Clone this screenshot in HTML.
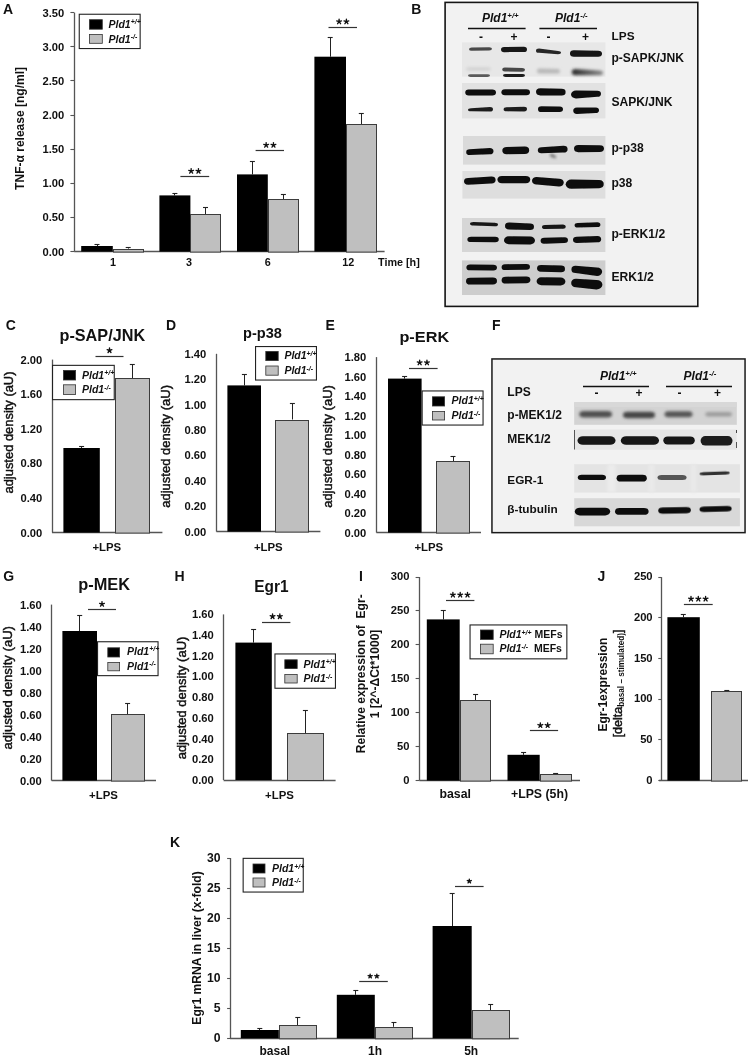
<!DOCTYPE html>
<html><head><meta charset="utf-8"><title>Figure</title>
<style>
html,body{margin:0;padding:0;background:#fff;}
body{width:750px;height:1058px;overflow:hidden;}
svg{display:block;font-family:"Liberation Sans", sans-serif;will-change:transform;}
</style></head>
<body>
<svg width="750" height="1058" viewBox="0 0 750 1058">
<defs>
<filter id="b1" x="-20%" y="-60%" width="140%" height="220%"><feGaussianBlur stdDeviation="0.7"/></filter>
<filter id="b2" x="-20%" y="-80%" width="140%" height="260%"><feGaussianBlur stdDeviation="1.4"/></filter>
</defs>
<rect x="0" y="0" width="750" height="1058" fill="#fff"/>
<text x="3.0" y="13.7" font-size="14" font-weight="bold" text-anchor="start" fill="#111">A</text>
<line x1="74.5" y1="12.619999999999976" x2="74.5" y2="251.6" stroke="#555" stroke-width="1.3"/>
<line x1="70.4" y1="251.5" x2="74.2" y2="251.5" stroke="#555" stroke-width="1.1"/>
<text x="64.3" y="255.5" font-size="11.2" font-weight="bold" text-anchor="end" fill="#111">0.00</text>
<line x1="70.4" y1="217.5" x2="74.2" y2="217.5" stroke="#555" stroke-width="1.1"/>
<text x="64.3" y="221.36" font-size="11.2" font-weight="bold" text-anchor="end" fill="#111">0.50</text>
<line x1="70.4" y1="183.5" x2="74.2" y2="183.5" stroke="#555" stroke-width="1.1"/>
<text x="64.3" y="187.22" font-size="11.2" font-weight="bold" text-anchor="end" fill="#111">1.00</text>
<line x1="70.4" y1="149.5" x2="74.2" y2="149.5" stroke="#555" stroke-width="1.1"/>
<text x="64.3" y="153.08" font-size="11.2" font-weight="bold" text-anchor="end" fill="#111">1.50</text>
<line x1="70.4" y1="115.5" x2="74.2" y2="115.5" stroke="#555" stroke-width="1.1"/>
<text x="64.3" y="118.94" font-size="11.2" font-weight="bold" text-anchor="end" fill="#111">2.00</text>
<line x1="70.4" y1="80.5" x2="74.2" y2="80.5" stroke="#555" stroke-width="1.1"/>
<text x="64.3" y="84.8" font-size="11.2" font-weight="bold" text-anchor="end" fill="#111">2.50</text>
<line x1="70.4" y1="46.5" x2="74.2" y2="46.5" stroke="#555" stroke-width="1.1"/>
<text x="64.3" y="50.66" font-size="11.2" font-weight="bold" text-anchor="end" fill="#111">3.00</text>
<line x1="70.4" y1="12.5" x2="74.2" y2="12.5" stroke="#555" stroke-width="1.1"/>
<text x="64.3" y="16.52" font-size="11.2" font-weight="bold" text-anchor="end" fill="#111">3.50</text>
<line x1="74.2" y1="251.5" x2="384.6" y2="251.5" stroke="#555" stroke-width="1.3"/>
<line x1="97.5" y1="244.4" x2="97.5" y2="246" stroke="#222" stroke-width="1.0"/>
<line x1="94.5" y1="244.5" x2="99.5" y2="244.5" stroke="#222" stroke-width="1.1"/>
<line x1="128.5" y1="247.4" x2="128.5" y2="248.6" stroke="#222" stroke-width="1.0"/>
<line x1="125.69999999999999" y1="247.5" x2="130.7" y2="247.5" stroke="#222" stroke-width="1.1"/>
<rect x="81.20" y="246.00" width="31.60" height="5.60" fill="#000"/>
<rect x="113.5" y="249.5" width="30" height="2.5999999999999943" fill="#bfbfbf" stroke="#3c3c3c" stroke-width="1"/>
<line x1="174.5" y1="193" x2="174.5" y2="195.4" stroke="#222" stroke-width="1.0"/>
<line x1="172.4" y1="193.5" x2="177.4" y2="193.5" stroke="#222" stroke-width="1.1"/>
<line x1="205.5" y1="207.2" x2="205.5" y2="214.4" stroke="#222" stroke-width="1.0"/>
<line x1="203.0" y1="207.5" x2="208.0" y2="207.5" stroke="#222" stroke-width="1.1"/>
<rect x="159.40" y="195.40" width="31.00" height="56.20" fill="#000"/>
<rect x="190.5" y="214.5" width="30" height="37.599999999999994" fill="#bfbfbf" stroke="#3c3c3c" stroke-width="1"/>
<line x1="252.5" y1="161.2" x2="252.5" y2="174.4" stroke="#222" stroke-width="1.0"/>
<line x1="249.9" y1="161.5" x2="254.9" y2="161.5" stroke="#222" stroke-width="1.1"/>
<line x1="283.5" y1="194.4" x2="283.5" y2="199.4" stroke="#222" stroke-width="1.0"/>
<line x1="280.9" y1="194.5" x2="285.9" y2="194.5" stroke="#222" stroke-width="1.1"/>
<rect x="237.00" y="174.40" width="30.80" height="77.20" fill="#000"/>
<rect x="268.5" y="199.5" width="30" height="52.599999999999994" fill="#bfbfbf" stroke="#3c3c3c" stroke-width="1"/>
<line x1="330.5" y1="37.3" x2="330.5" y2="56.7" stroke="#222" stroke-width="1.0"/>
<line x1="327.7" y1="37.5" x2="332.7" y2="37.5" stroke="#222" stroke-width="1.1"/>
<line x1="361.5" y1="113.8" x2="361.5" y2="124.3" stroke="#222" stroke-width="1.0"/>
<line x1="358.8" y1="113.5" x2="363.8" y2="113.5" stroke="#222" stroke-width="1.1"/>
<rect x="314.40" y="56.70" width="31.60" height="194.90" fill="#000"/>
<rect x="346.5" y="124.5" width="30" height="127.6" fill="#bfbfbf" stroke="#3c3c3c" stroke-width="1"/>
<line x1="180.4" y1="176.5" x2="209.2" y2="176.5" stroke="#333" stroke-width="1.2"/>
<path d="M191.15 171.10L191.15 168.60M191.15 171.10L193.53 170.33M191.15 171.10L192.62 173.12M191.15 171.10L189.68 173.12M191.15 171.10L188.77 170.33" stroke="#111" stroke-width="1.35" stroke-linecap="round" fill="none"/>
<circle cx="191.15" cy="171.10" r="1.15" fill="#111"/>
<path d="M198.45 171.10L198.45 168.60M198.45 171.10L200.83 170.33M198.45 171.10L199.92 173.12M198.45 171.10L196.98 173.12M198.45 171.10L196.07 170.33" stroke="#111" stroke-width="1.35" stroke-linecap="round" fill="none"/>
<circle cx="198.45" cy="171.10" r="1.15" fill="#111"/>
<line x1="255.6" y1="150.5" x2="284.0" y2="150.5" stroke="#333" stroke-width="1.2"/>
<path d="M266.15 145.10L266.15 142.60M266.15 145.10L268.53 144.33M266.15 145.10L267.62 147.12M266.15 145.10L264.68 147.12M266.15 145.10L263.77 144.33" stroke="#111" stroke-width="1.35" stroke-linecap="round" fill="none"/>
<circle cx="266.15" cy="145.10" r="1.15" fill="#111"/>
<path d="M273.45 145.10L273.45 142.60M273.45 145.10L275.83 144.33M273.45 145.10L274.92 147.12M273.45 145.10L271.98 147.12M273.45 145.10L271.07 144.33" stroke="#111" stroke-width="1.35" stroke-linecap="round" fill="none"/>
<circle cx="273.45" cy="145.10" r="1.15" fill="#111"/>
<line x1="328.5" y1="27.5" x2="357.0" y2="27.5" stroke="#333" stroke-width="1.2"/>
<path d="M339.10 21.70L339.10 19.20M339.10 21.70L341.48 20.93M339.10 21.70L340.57 23.72M339.10 21.70L337.63 23.72M339.10 21.70L336.72 20.93" stroke="#111" stroke-width="1.35" stroke-linecap="round" fill="none"/>
<circle cx="339.10" cy="21.70" r="1.15" fill="#111"/>
<path d="M346.40 21.70L346.40 19.20M346.40 21.70L348.78 20.93M346.40 21.70L347.87 23.72M346.40 21.70L344.93 23.72M346.40 21.70L344.02 20.93" stroke="#111" stroke-width="1.35" stroke-linecap="round" fill="none"/>
<circle cx="346.40" cy="21.70" r="1.15" fill="#111"/>
<text x="113.1" y="266" font-size="10.8" font-weight="bold" text-anchor="middle" fill="#111">1</text>
<text x="188.9" y="266" font-size="10.8" font-weight="bold" text-anchor="middle" fill="#111">3</text>
<text x="267.8" y="266" font-size="10.8" font-weight="bold" text-anchor="middle" fill="#111">6</text>
<text x="348.3" y="266" font-size="10.8" font-weight="bold" text-anchor="middle" fill="#111">12</text>
<text x="378" y="266" font-size="10.8" font-weight="bold" text-anchor="start" fill="#111">Time [h]</text>
<rect x="79.25" y="14.25" width="60.90" height="34.30" fill="#fff" stroke="#222" stroke-width="1.1"/>
<rect x="89.40" y="19.70" width="12.90" height="9.50" fill="#000" stroke="#333" stroke-width="0.8"/>
<rect x="89.40" y="34.40" width="12.90" height="8.90" fill="#bfbfbf" stroke="#333" stroke-width="0.8"/>
<text x="108.5" y="27.7" font-size="10.5" font-weight="bold" font-style="italic" fill="#111" xml:space="preserve">Pld1<tspan font-size="6.9" dy="-3.3">+/+</tspan></text>
<text x="108.5" y="42.7" font-size="10.5" font-weight="bold" font-style="italic" fill="#111" xml:space="preserve">Pld1<tspan font-size="6.9" dy="-3.3">-/-</tspan></text>
<text transform="translate(23.6,128.4) rotate(-90)" x="0" y="0" font-size="12" font-weight="bold" text-anchor="middle" fill="#111" textLength="123" lengthAdjust="spacingAndGlyphs" xml:space="preserve">TNF-&#945; release [ng/ml]</text>
<text x="411.2" y="13.5" font-size="14" font-weight="bold" text-anchor="start" fill="#111">B</text>
<rect x="445.10" y="2.40" width="252.70" height="304.00" fill="#f2f2f2" stroke="#151515" stroke-width="1.6"/>
<text x="482" y="21.6" font-size="12" font-weight="bold" font-style="italic" fill="#111">Pld1<tspan font-size="7.8" dy="-3.6">+/+</tspan></text>
<text x="555" y="21.6" font-size="12" font-weight="bold" font-style="italic" fill="#111">Pld1<tspan font-size="7.8" dy="-3.6">-/-</tspan></text>
<line x1="468" y1="28.5" x2="525.6" y2="28.5" stroke="#111" stroke-width="1.6"/>
<line x1="539.4" y1="28.5" x2="597" y2="28.5" stroke="#111" stroke-width="1.6"/>
<text x="481" y="40.5" font-size="12" font-weight="bold" text-anchor="middle" fill="#111">-</text>
<text x="514" y="40.5" font-size="12" font-weight="bold" text-anchor="middle" fill="#111">+</text>
<text x="548.6" y="40.5" font-size="12" font-weight="bold" text-anchor="middle" fill="#111">-</text>
<text x="585.6" y="40.5" font-size="12" font-weight="bold" text-anchor="middle" fill="#111">+</text>
<text x="611.6" y="40.2" font-size="11.8" font-weight="bold" text-anchor="start" fill="#111">LPS</text>
<text x="611.4" y="62.4" font-size="12.1" font-weight="bold" text-anchor="start" fill="#111">p-SAPK/JNK</text>
<text x="611.4" y="106" font-size="12.1" font-weight="bold" text-anchor="start" fill="#111">SAPK/JNK</text>
<text x="611.4" y="152" font-size="12.1" font-weight="bold" text-anchor="start" fill="#111">p-p38</text>
<text x="611.4" y="187" font-size="12.1" font-weight="bold" text-anchor="start" fill="#111">p38</text>
<text x="611.4" y="238" font-size="12.1" font-weight="bold" text-anchor="start" fill="#111">p-ERK1/2</text>
<text x="611.4" y="281" font-size="12.1" font-weight="bold" text-anchor="start" fill="#111">ERK1/2</text>
<rect x="462.00" y="42.40" width="143.40" height="34.20" fill="#e7e7e7"/>
<rect x="462.00" y="83.00" width="143.40" height="35.40" fill="#e2e2e2"/>
<rect x="463.00" y="136.00" width="142.40" height="28.60" fill="#dadada"/>
<rect x="462.40" y="171.00" width="143.00" height="27.60" fill="#dedede"/>
<rect x="462.00" y="218.00" width="143.40" height="34.00" fill="#d6d6d6"/>
<rect x="462.00" y="260.40" width="143.40" height="34.60" fill="#cdcdcd"/>
<path d="M471.76 47.50 L489.24 47.20 A2.76 1.65 0 0 1 489.24 50.50 L471.76 50.80 A2.76 1.65 0 0 1 471.76 47.50 Z" fill="#4a4a4a" filter="url(#b1)"/>
<path d="M504.12 47.03 L523.88 46.87 A3.12 2.55 0 0 1 523.88 51.97 L504.12 52.13 A3.12 2.55 0 0 1 504.12 47.03 Z" fill="#161616" filter="url(#b1)"/>
<path d="M539.00 48.53 L558.00 50.97 A3.00 1.63 0 0 1 558.00 54.23 L539.00 52.87 A3.00 2.17 0 0 1 539.00 48.53 Z" fill="#262626" filter="url(#b1)"/>
<path d="M573.90 50.25 L598.16 50.85 A3.84 2.99 0 0 1 598.16 56.83 L573.90 56.67 A3.90 3.21 0 0 1 573.90 50.25 Z" fill="#121212" filter="url(#b1)"/>
<path d="M469.00 67.30 L488.00 67.30 A3.00 1.70 0 0 1 488.00 70.70 L469.00 70.70 A3.00 1.70 0 0 1 469.00 67.30 Z" fill="#d2d2d2" filter="url(#b2)"/>
<path d="M470.64 74.25 L487.36 74.25 A2.64 1.35 0 0 1 487.36 76.95 L470.64 76.95 A2.64 1.35 0 0 1 470.64 74.25 Z" fill="#5a5a5a" filter="url(#b1)"/>
<path d="M504.76 67.42 L522.24 67.88 A2.76 1.87 0 0 1 522.24 71.63 L504.76 71.47 A2.76 2.03 0 0 1 504.76 67.42 Z" fill="#474747" filter="url(#b1)"/>
<path d="M505.64 74.05 L522.36 74.05 A2.64 1.45 0 0 1 522.36 76.95 L505.64 76.95 A2.64 1.45 0 0 1 505.64 74.05 Z" fill="#1e1e1e" filter="url(#b1)"/>
<path d="M539.94 68.60 L557.24 68.90 A2.76 2.27 0 0 1 557.24 73.45 L539.94 73.45 A2.94 2.42 0 0 1 539.94 68.60 Z" fill="#b8b8b8" filter="url(#b2)"/>
<linearGradient id="g101" x1="0" x2="1" y1="0" y2="0"><stop offset="0" stop-color="#2a2a2a"/><stop offset="1" stop-color="#8a8a8a"/></linearGradient>
<path d="M575.50 69.00 L599.23 70.51 A3.77 2.37 0 0 1 599.23 75.25 L575.50 75.25 A3.90 3.13 0 0 1 575.50 69.00 Z" fill="url(#g101)" filter="url(#b2)"/>
<path d="M468.72 89.39 L492.28 89.61 A3.72 2.96 0 0 1 492.28 95.54 L468.72 95.46 A3.72 3.04 0 0 1 468.72 89.39 Z" fill="#0d0d0d" filter="url(#b1)"/>
<path d="M504.94 89.25 L526.46 89.25 A3.54 2.95 0 0 1 526.46 95.15 L504.94 95.15 A3.54 2.95 0 0 1 504.94 89.25 Z" fill="#0d0d0d" filter="url(#b1)"/>
<path d="M540.38 88.27 L561.70 88.84 A3.90 3.30 0 0 1 561.70 95.45 L540.38 95.45 A4.38 3.59 0 0 1 540.38 88.27 Z" fill="#0d0d0d" filter="url(#b1)"/>
<path d="M575.98 90.48 L597.40 90.63 A3.60 3.09 0 0 1 597.40 96.81 L575.98 98.38 A4.98 3.95 0 0 1 575.98 90.48 Z" fill="#0d0d0d" filter="url(#b1)"/>
<path d="M471.00 108.16 L490.00 106.94 A3.00 2.33 0 0 1 490.00 111.60 L471.00 111.30 A3.00 1.57 0 0 1 471.00 108.16 Z" fill="#1e1e1e" filter="url(#b1)"/>
<path d="M506.41 107.34 L524.06 106.66 A2.94 2.39 0 0 1 524.06 111.44 L506.41 111.36 A2.81 2.01 0 0 1 506.41 107.34 Z" fill="#1e1e1e" filter="url(#b1)"/>
<path d="M541.42 106.36 L559.70 106.44 A3.30 2.76 0 0 1 559.70 111.96 L541.42 112.04 A3.42 2.84 0 0 1 541.42 106.36 Z" fill="#111" filter="url(#b1)"/>
<path d="M576.90 107.53 L595.70 107.46 A3.30 2.81 0 0 1 595.70 113.09 L576.90 113.88 A3.90 3.18 0 0 1 576.90 107.53 Z" fill="#111" filter="url(#b1)"/>
<path d="M469.50 149.33 L489.80 148.01 A3.90 3.18 0 0 1 489.80 154.36 L469.50 154.95 A3.30 2.81 0 0 1 469.50 149.33 Z" fill="#0d0d0d" filter="url(#b1)"/>
<path d="M506.68 146.88 L524.82 146.62 A4.38 3.65 0 0 1 524.82 153.92 L506.68 154.18 A4.38 3.65 0 0 1 506.68 146.88 Z" fill="#0d0d0d" filter="url(#b1)"/>
<path d="M541.38 147.22 L563.46 145.81 A4.14 3.38 0 0 1 563.46 152.58 L541.38 153.24 A3.58 3.01 0 0 1 541.38 147.22 Z" fill="#0d0d0d" filter="url(#b1)"/>
<path d="M551.50 154.10 L554.98 156.07 A1.02 0.92 0 0 1 554.98 157.91 L551.50 156.40 A1.50 1.15 0 0 1 551.50 154.10 Z" fill="#444" filter="url(#b2)"/>
<path d="M578.26 145.06 L599.86 145.14 A4.14 3.46 0 0 1 599.86 152.06 L578.26 152.14 A4.26 3.54 0 0 1 578.26 145.06 Z" fill="#0d0d0d" filter="url(#b1)"/>
<path d="M468.14 177.91 L491.46 176.59 A4.14 3.45 0 0 1 491.46 183.49 L468.14 184.81 A4.14 3.45 0 0 1 468.14 177.91 Z" fill="#0d0d0d" filter="url(#b1)"/>
<path d="M501.88 175.95 L525.82 175.95 A4.38 3.65 0 0 1 525.82 183.25 L501.88 183.25 A4.38 3.65 0 0 1 501.88 175.95 Z" fill="#0d0d0d" filter="url(#b1)"/>
<path d="M536.50 176.99 L559.06 178.69 A4.74 3.92 0 0 1 559.06 186.53 L536.50 184.55 A4.50 3.78 0 0 1 536.50 176.99 Z" fill="#0d0d0d" filter="url(#b1)"/>
<path d="M571.28 179.61 L599.14 179.90 A4.86 4.13 0 0 1 599.14 188.15 L571.28 188.73 A5.58 4.56 0 0 1 571.28 179.61 Z" fill="#0d0d0d" filter="url(#b1)"/>
<path d="M473.36 221.96 L494.64 222.64 A3.36 1.84 0 0 1 494.64 226.32 L473.36 225.48 A3.36 1.76 0 0 1 473.36 221.96 Z" fill="#161616" filter="url(#b1)"/>
<path d="M509.14 222.55 L530.10 223.56 A3.90 3.28 0 0 1 530.10 230.12 L509.14 229.39 A4.14 3.42 0 0 1 509.14 222.55 Z" fill="#0a0a0a" filter="url(#b1)"/>
<path d="M544.88 224.88 L563.12 224.42 A2.88 2.23 0 0 1 563.12 228.87 L544.88 229.03 A2.88 2.07 0 0 1 544.88 224.88 Z" fill="#161616" filter="url(#b1)"/>
<path d="M577.72 223.03 L597.48 222.27 A3.12 2.43 0 0 1 597.48 227.12 L577.72 227.58 A3.12 2.27 0 0 1 577.72 223.03 Z" fill="#111" filter="url(#b1)"/>
<path d="M471.19 236.76 L495.21 236.84 A3.79 2.74 0 0 1 495.21 242.31 L471.19 242.09 A3.79 2.66 0 0 1 471.19 236.76 Z" fill="#0a0a0a" filter="url(#b1)"/>
<path d="M508.74 236.31 L530.26 236.59 A4.74 3.95 0 0 1 530.26 244.49 L508.74 244.21 A4.74 3.95 0 0 1 508.74 236.31 Z" fill="#0a0a0a" filter="url(#b1)"/>
<path d="M544.14 237.75 L564.46 237.15 A3.54 2.95 0 0 1 564.46 243.05 L544.14 243.65 A3.54 2.95 0 0 1 544.14 237.75 Z" fill="#0a0a0a" filter="url(#b1)"/>
<path d="M576.78 236.70 L597.50 235.90 A3.90 3.24 0 0 1 597.50 242.37 L576.78 243.03 A3.78 3.16 0 0 1 576.78 236.70 Z" fill="#0a0a0a" filter="url(#b1)"/>
<path d="M470.07 264.47 L493.33 264.63 A3.67 2.95 0 0 1 493.33 270.53 L470.07 270.37 A3.67 2.95 0 0 1 470.07 264.47 Z" fill="#0a0a0a" filter="url(#b1)"/>
<path d="M505.14 264.20 L526.46 263.90 A3.54 2.95 0 0 1 526.46 269.80 L505.14 270.10 A3.54 2.95 0 0 1 505.14 264.20 Z" fill="#0a0a0a" filter="url(#b1)"/>
<path d="M541.14 264.90 L561.10 265.61 A3.90 3.28 0 0 1 561.10 272.17 L541.14 271.74 A4.14 3.42 0 0 1 541.14 264.90 Z" fill="#0a0a0a" filter="url(#b1)"/>
<path d="M575.54 265.87 L597.06 267.54 A5.34 4.28 0 0 1 597.06 276.09 L575.54 273.04 A4.14 3.58 0 0 1 575.54 265.87 Z" fill="#111" filter="url(#b1)"/>
<path d="M470.14 277.72 L492.86 277.58 A4.14 3.45 0 0 1 492.86 284.48 L470.14 284.62 A4.14 3.45 0 0 1 470.14 277.72 Z" fill="#0a0a0a" filter="url(#b1)"/>
<path d="M505.74 276.69 L526.26 276.41 A4.14 3.45 0 0 1 526.26 283.31 L505.74 283.59 A4.14 3.45 0 0 1 505.74 276.69 Z" fill="#0a0a0a" filter="url(#b1)"/>
<path d="M541.34 277.32 L560.66 277.58 A4.74 3.95 0 0 1 560.66 285.48 L541.34 285.22 A4.74 3.95 0 0 1 541.34 277.32 Z" fill="#0a0a0a" filter="url(#b1)"/>
<path d="M575.98 278.74 L596.46 279.91 A5.94 4.80 0 0 1 596.46 289.51 L575.98 287.29 A4.98 4.28 0 0 1 575.98 278.74 Z" fill="#0a0a0a" filter="url(#b1)"/>
<text x="5.8" y="330" font-size="14" font-weight="bold" text-anchor="start" fill="#111">C</text>
<text x="102.3" y="340.7" font-size="15.9" font-weight="bold" text-anchor="middle" fill="#111" textLength="85.6" lengthAdjust="spacingAndGlyphs">p-SAP/JNK</text>
<line x1="52.5" y1="359.6" x2="52.5" y2="532.6" stroke="#555" stroke-width="1.3"/>
<text x="42.2" y="536.5" font-size="11.2" font-weight="bold" text-anchor="end" fill="#111">0.00</text>
<text x="42.2" y="501.9" font-size="11.2" font-weight="bold" text-anchor="end" fill="#111">0.40</text>
<text x="42.2" y="467.3" font-size="11.2" font-weight="bold" text-anchor="end" fill="#111">0.80</text>
<text x="42.2" y="432.7" font-size="11.2" font-weight="bold" text-anchor="end" fill="#111">1.20</text>
<text x="42.2" y="398.1" font-size="11.2" font-weight="bold" text-anchor="end" fill="#111">1.60</text>
<text x="42.2" y="363.5" font-size="11.2" font-weight="bold" text-anchor="end" fill="#111">2.00</text>
<line x1="52" y1="532.5" x2="162.4" y2="532.5" stroke="#555" stroke-width="1.3"/>
<line x1="81.5" y1="446" x2="81.5" y2="448" stroke="#222" stroke-width="1.0"/>
<line x1="79.1" y1="446.5" x2="84.1" y2="446.5" stroke="#222" stroke-width="1.1"/>
<rect x="63.40" y="448.00" width="36.40" height="84.60" fill="#000"/>
<line x1="132.5" y1="364.8" x2="132.5" y2="378.1" stroke="#222" stroke-width="1.0"/>
<line x1="129.8" y1="364.5" x2="134.8" y2="364.5" stroke="#222" stroke-width="1.1"/>
<rect x="115.5" y="378.5" width="34" height="154.60000000000002" fill="#bfbfbf" stroke="#3c3c3c" stroke-width="1"/>
<rect x="52.55" y="365.35" width="61.70" height="34.30" fill="#fff" stroke="#222" stroke-width="1.1"/>
<rect x="63.40" y="370.40" width="12.20" height="9.60" fill="#000" stroke="#333" stroke-width="0.8"/>
<rect x="63.40" y="384.80" width="12.20" height="9.80" fill="#bfbfbf" stroke="#333" stroke-width="0.8"/>
<text x="82" y="378.6" font-size="10.5" font-weight="bold" font-style="italic" fill="#111" xml:space="preserve">Pld1<tspan font-size="6.9" dy="-3.3">+/+</tspan></text>
<text x="82" y="393" font-size="10.5" font-weight="bold" font-style="italic" fill="#111" xml:space="preserve">Pld1<tspan font-size="6.9" dy="-3.3">-/-</tspan></text>
<line x1="95.5" y1="356.5" x2="123.5" y2="356.5" stroke="#333" stroke-width="1.2"/>
<path d="M109.50 350.50L109.50 348.00M109.50 350.50L111.88 349.73M109.50 350.50L110.97 352.52M109.50 350.50L108.03 352.52M109.50 350.50L107.12 349.73" stroke="#111" stroke-width="1.35" stroke-linecap="round" fill="none"/>
<circle cx="109.50" cy="350.50" r="1.15" fill="#111"/>
<text x="106.8" y="551" font-size="11.4" font-weight="bold" text-anchor="middle" fill="#111">+LPS</text>
<text transform="translate(13.4,432.5) rotate(-90)" x="0" y="0" font-size="13" font-weight="normal" text-anchor="middle" fill="#111" textLength="122" lengthAdjust="spacingAndGlyphs" stroke="#111" stroke-width="0.45" xml:space="preserve">adjusted density (aU)</text>
<text x="166.0" y="330" font-size="14" font-weight="bold" text-anchor="start" fill="#111">D</text>
<text x="262.45" y="338.3" font-size="14" font-weight="bold" text-anchor="middle" fill="#111" textLength="38.9" lengthAdjust="spacingAndGlyphs">p-p38</text>
<line x1="216.5" y1="353.80000000000007" x2="216.5" y2="531.6" stroke="#555" stroke-width="1.3"/>
<text x="206.2" y="535.5" font-size="11.2" font-weight="bold" text-anchor="end" fill="#111">0.00</text>
<text x="206.2" y="510.1" font-size="11.2" font-weight="bold" text-anchor="end" fill="#111">0.20</text>
<text x="206.2" y="484.7" font-size="11.2" font-weight="bold" text-anchor="end" fill="#111">0.40</text>
<text x="206.2" y="459.3" font-size="11.2" font-weight="bold" text-anchor="end" fill="#111">0.60</text>
<text x="206.2" y="433.9" font-size="11.2" font-weight="bold" text-anchor="end" fill="#111">0.80</text>
<text x="206.2" y="408.5" font-size="11.2" font-weight="bold" text-anchor="end" fill="#111">1.00</text>
<text x="206.2" y="383.1" font-size="11.2" font-weight="bold" text-anchor="end" fill="#111">1.20</text>
<text x="206.2" y="357.7" font-size="11.2" font-weight="bold" text-anchor="end" fill="#111">1.40</text>
<line x1="216.4" y1="531.5" x2="320.4" y2="531.5" stroke="#555" stroke-width="1.3"/>
<line x1="244.5" y1="374.6" x2="244.5" y2="385.4" stroke="#222" stroke-width="1.0"/>
<line x1="241.9" y1="374.5" x2="246.9" y2="374.5" stroke="#222" stroke-width="1.1"/>
<rect x="227.40" y="385.40" width="33.60" height="146.20" fill="#000"/>
<line x1="292.5" y1="403.4" x2="292.5" y2="419.5" stroke="#222" stroke-width="1.0"/>
<line x1="289.9" y1="403.5" x2="294.9" y2="403.5" stroke="#222" stroke-width="1.1"/>
<rect x="275.5" y="420.5" width="33" height="111.60000000000002" fill="#bfbfbf" stroke="#3c3c3c" stroke-width="1"/>
<rect x="255.55" y="346.55" width="60.90" height="33.50" fill="#fff" stroke="#222" stroke-width="1.1"/>
<rect x="265.80" y="351.40" width="12.40" height="9.20" fill="#000" stroke="#333" stroke-width="0.8"/>
<rect x="265.80" y="366.00" width="12.40" height="9.20" fill="#bfbfbf" stroke="#333" stroke-width="0.8"/>
<text x="284.4" y="359" font-size="10.5" font-weight="bold" font-style="italic" fill="#111" xml:space="preserve">Pld1<tspan font-size="6.9" dy="-3.3">+/+</tspan></text>
<text x="284.4" y="374" font-size="10.5" font-weight="bold" font-style="italic" fill="#111" xml:space="preserve">Pld1<tspan font-size="6.9" dy="-3.3">-/-</tspan></text>
<text x="268.3" y="550.5" font-size="11.4" font-weight="bold" text-anchor="middle" fill="#111">+LPS</text>
<text transform="translate(170.3,446.4) rotate(-90)" x="0" y="0" font-size="13" font-weight="normal" text-anchor="middle" fill="#111" textLength="122.7" lengthAdjust="spacingAndGlyphs" stroke="#111" stroke-width="0.45" xml:space="preserve">adjusted density (aU)</text>
<text x="325.6" y="330" font-size="14" font-weight="bold" text-anchor="start" fill="#111">E</text>
<text x="424.3" y="342.2" font-size="14.8" font-weight="bold" text-anchor="middle" fill="#111" textLength="49.7" lengthAdjust="spacingAndGlyphs">p-ERK</text>
<line x1="376.5" y1="357.1" x2="376.5" y2="532.6" stroke="#555" stroke-width="1.3"/>
<text x="366.2" y="536.5" font-size="11.2" font-weight="bold" text-anchor="end" fill="#111">0.00</text>
<text x="366.2" y="517.0" font-size="11.2" font-weight="bold" text-anchor="end" fill="#111">0.20</text>
<text x="366.2" y="497.5" font-size="11.2" font-weight="bold" text-anchor="end" fill="#111">0.40</text>
<text x="366.2" y="478.0" font-size="11.2" font-weight="bold" text-anchor="end" fill="#111">0.60</text>
<text x="366.2" y="458.5" font-size="11.2" font-weight="bold" text-anchor="end" fill="#111">0.80</text>
<text x="366.2" y="439.0" font-size="11.2" font-weight="bold" text-anchor="end" fill="#111">1.00</text>
<text x="366.2" y="419.5" font-size="11.2" font-weight="bold" text-anchor="end" fill="#111">1.20</text>
<text x="366.2" y="400.0" font-size="11.2" font-weight="bold" text-anchor="end" fill="#111">1.40</text>
<text x="366.2" y="380.5" font-size="11.2" font-weight="bold" text-anchor="end" fill="#111">1.60</text>
<text x="366.2" y="361.0" font-size="11.2" font-weight="bold" text-anchor="end" fill="#111">1.80</text>
<line x1="376.4" y1="532.5" x2="481" y2="532.5" stroke="#555" stroke-width="1.3"/>
<line x1="404.5" y1="376" x2="404.5" y2="378.6" stroke="#222" stroke-width="1.0"/>
<line x1="402.1" y1="376.5" x2="407.1" y2="376.5" stroke="#222" stroke-width="1.1"/>
<rect x="388.00" y="378.60" width="33.60" height="154.00" fill="#000"/>
<line x1="453.5" y1="456.6" x2="453.5" y2="461.4" stroke="#222" stroke-width="1.0"/>
<line x1="450.5" y1="456.5" x2="455.5" y2="456.5" stroke="#222" stroke-width="1.1"/>
<rect x="436.5" y="461.5" width="33" height="71.60000000000002" fill="#bfbfbf" stroke="#3c3c3c" stroke-width="1"/>
<rect x="422.15" y="390.95" width="60.90" height="34.10" fill="#fff" stroke="#222" stroke-width="1.1"/>
<rect x="432.40" y="396.80" width="12.20" height="9.20" fill="#000" stroke="#333" stroke-width="0.8"/>
<rect x="432.40" y="411.40" width="12.20" height="8.60" fill="#bfbfbf" stroke="#333" stroke-width="0.8"/>
<text x="451.6" y="404.4" font-size="10.5" font-weight="bold" font-style="italic" fill="#111" xml:space="preserve">Pld1<tspan font-size="6.9" dy="-3.3">+/+</tspan></text>
<text x="451.6" y="419" font-size="10.5" font-weight="bold" font-style="italic" fill="#111" xml:space="preserve">Pld1<tspan font-size="6.9" dy="-3.3">-/-</tspan></text>
<line x1="409" y1="368.5" x2="437.6" y2="368.5" stroke="#333" stroke-width="1.2"/>
<path d="M419.65 362.70L419.65 360.20M419.65 362.70L422.03 361.93M419.65 362.70L421.12 364.72M419.65 362.70L418.18 364.72M419.65 362.70L417.27 361.93" stroke="#111" stroke-width="1.35" stroke-linecap="round" fill="none"/>
<circle cx="419.65" cy="362.70" r="1.15" fill="#111"/>
<path d="M426.95 362.70L426.95 360.20M426.95 362.70L429.33 361.93M426.95 362.70L428.42 364.72M426.95 362.70L425.48 364.72M426.95 362.70L424.57 361.93" stroke="#111" stroke-width="1.35" stroke-linecap="round" fill="none"/>
<circle cx="426.95" cy="362.70" r="1.15" fill="#111"/>
<text x="428.8" y="551" font-size="11.4" font-weight="bold" text-anchor="middle" fill="#111">+LPS</text>
<text transform="translate(332,446.5) rotate(-90)" x="0" y="0" font-size="13" font-weight="normal" text-anchor="middle" fill="#111" textLength="122.7" lengthAdjust="spacingAndGlyphs" stroke="#111" stroke-width="0.45" xml:space="preserve">adjusted density (aU)</text>
<text x="492.0" y="330" font-size="14" font-weight="bold" text-anchor="start" fill="#111">F</text>
<rect x="491.95" y="358.95" width="253.10" height="173.70" fill="#f2f2f2" stroke="#1a1a1a" stroke-width="1.5"/>
<text x="600" y="380" font-size="12" font-weight="bold" font-style="italic" fill="#111">Pld1<tspan font-size="7.8" dy="-3.6">+/+</tspan></text>
<text x="683.6" y="380" font-size="12" font-weight="bold" font-style="italic" fill="#111">Pld1<tspan font-size="7.8" dy="-3.6">-/-</tspan></text>
<line x1="583" y1="386.5" x2="649" y2="386.5" stroke="#111" stroke-width="1.6"/>
<line x1="666" y1="386.5" x2="732" y2="386.5" stroke="#111" stroke-width="1.6"/>
<text x="596.6" y="397" font-size="12" font-weight="bold" text-anchor="middle" fill="#111">-</text>
<text x="639" y="397" font-size="12" font-weight="bold" text-anchor="middle" fill="#111">+</text>
<text x="679.4" y="397" font-size="12" font-weight="bold" text-anchor="middle" fill="#111">-</text>
<text x="717.6" y="397" font-size="12" font-weight="bold" text-anchor="middle" fill="#111">+</text>
<text x="507.3" y="396.4" font-size="12" font-weight="bold" text-anchor="start" fill="#111">LPS</text>
<text x="507.3" y="419" font-size="12" font-weight="bold" text-anchor="start" fill="#111">p-MEK1/2</text>
<text x="507.3" y="443.4" font-size="12" font-weight="bold" text-anchor="start" fill="#111">MEK1/2</text>
<text x="507.3" y="484" font-size="11.8" font-weight="bold" text-anchor="start" fill="#111">EGR-1</text>
<text x="507.3" y="513" font-size="11.8" font-weight="bold" text-anchor="start" fill="#111">&#946;-tubulin</text>
<rect x="574.20" y="402.20" width="162.60" height="22.60" fill="#d3d3d3"/>
<rect x="574.20" y="402.20" width="162.60" height="4.80" fill="#d8d8d8"/>
<rect x="574.20" y="429.50" width="162.60" height="20.30" fill="#e6e6e6"/>
<line x1="574.5" y1="430" x2="574.5" y2="449.5" stroke="#555" stroke-width="1.0"/>
<line x1="736.5" y1="430" x2="736.5" y2="433" stroke="#444" stroke-width="1.0"/>
<line x1="736.5" y1="442" x2="736.5" y2="448" stroke="#555" stroke-width="1.0"/>
<rect x="574.20" y="464.20" width="165.70" height="28.40" fill="#e4e4e4"/>
<g filter="url(#b2)"><rect x="607.5" y="464.5" width="8" height="27.8" fill="#ececec"/><rect x="648.5" y="464.5" width="6" height="27.8" fill="#eaeaea"/><rect x="690.5" y="464.5" width="6" height="27.8" fill="#e9e9e9"/></g>
<rect x="574.20" y="498.20" width="165.70" height="28.10" fill="#d8d8d8"/>
<rect x="579.3" y="411.0" width="32.7" height="6.6" rx="4.6" ry="3.3" fill="#505050" opacity="1.0" filter="url(#b2)"/>
<rect x="623.0" y="411.7" width="32.0" height="6.6" rx="4.5" ry="3.3" fill="#454545" opacity="1.0" filter="url(#b2)"/>
<rect x="664.5" y="411.2" width="28.0" height="6.1" rx="3.9" ry="3.0" fill="#555" opacity="1.0" filter="url(#b2)"/>
<rect x="705.3" y="412.0" width="26.7" height="4.6" rx="3.7" ry="2.3" fill="#9c9c9c" opacity="1.0" filter="url(#b2)"/>
<rect x="577.5" y="436.2" width="38.0" height="8.6" rx="5.3" ry="4.3" fill="#121212" opacity="1.0" filter="url(#b1)"/>
<rect x="620.8" y="436.2" width="38.2" height="8.6" rx="5.3" ry="4.3" fill="#121212" opacity="1.0" filter="url(#b1)"/>
<rect x="663.3" y="436.4" width="31.5" height="8.1" rx="4.4" ry="4.0" fill="#121212" opacity="1.0" filter="url(#b1)"/>
<rect x="700.6" y="436.0" width="31.9" height="9.6" rx="4.8" ry="4.8" fill="#1a1a1a" opacity="1.0" filter="url(#b1)"/>
<rect x="577.8" y="474.8" width="28.2" height="5.2" rx="3.9" ry="2.6" fill="#111" opacity="1.0" filter="url(#b1)"/>
<rect x="616.6" y="474.8" width="30.2" height="6.8" rx="4.2" ry="3.4" fill="#0a0a0a" opacity="1.0" filter="url(#b1)"/>
<rect x="657.5" y="474.9" width="29.1" height="5.0" rx="4.1" ry="2.5" fill="#555" opacity="1.0" filter="url(#b1)"/>
<rect x="699.5" y="471.7" width="30.3" height="3.2" rx="4.2" ry="1.6" fill="#333" opacity="1.0" filter="url(#b1)" transform="rotate(-2 714.6 473.3)"/>
<rect x="574.8" y="507.7" width="35.4" height="7.8" rx="5.0" ry="3.9" fill="#0d0d0d" opacity="1.0" filter="url(#b1)"/>
<rect x="615.0" y="508.0" width="33.6" height="6.8" rx="4.7" ry="3.4" fill="#0d0d0d" opacity="1.0" filter="url(#b1)"/>
<rect x="658.2" y="507.3" width="32.7" height="6.1" rx="4.6" ry="3.0" fill="#0d0d0d" opacity="1.0" filter="url(#b1)" transform="rotate(-1 674.5 510.4)"/>
<rect x="699.5" y="506.2" width="32.2" height="5.6" rx="4.5" ry="2.8" fill="#0d0d0d" opacity="1.0" filter="url(#b1)" transform="rotate(-1.5 715.6 509.0)"/>
<text x="3.2" y="581" font-size="14" font-weight="bold" text-anchor="start" fill="#111">G</text>
<text x="104.1" y="589.8" font-size="15.6" font-weight="bold" text-anchor="middle" fill="#111" textLength="51.8" lengthAdjust="spacingAndGlyphs">p-MEK</text>
<line x1="51.5" y1="604.6" x2="51.5" y2="780.6" stroke="#555" stroke-width="1.3"/>
<text x="41.8" y="784.5" font-size="11.2" font-weight="bold" text-anchor="end" fill="#111">0.00</text>
<text x="41.8" y="762.5" font-size="11.2" font-weight="bold" text-anchor="end" fill="#111">0.20</text>
<text x="41.8" y="740.5" font-size="11.2" font-weight="bold" text-anchor="end" fill="#111">0.40</text>
<text x="41.8" y="718.5" font-size="11.2" font-weight="bold" text-anchor="end" fill="#111">0.60</text>
<text x="41.8" y="696.5" font-size="11.2" font-weight="bold" text-anchor="end" fill="#111">0.80</text>
<text x="41.8" y="674.5" font-size="11.2" font-weight="bold" text-anchor="end" fill="#111">1.00</text>
<text x="41.8" y="652.5" font-size="11.2" font-weight="bold" text-anchor="end" fill="#111">1.20</text>
<text x="41.8" y="630.5" font-size="11.2" font-weight="bold" text-anchor="end" fill="#111">1.40</text>
<text x="41.8" y="608.5" font-size="11.2" font-weight="bold" text-anchor="end" fill="#111">1.60</text>
<line x1="51.6" y1="780.5" x2="156" y2="780.5" stroke="#555" stroke-width="1.3"/>
<line x1="79.5" y1="615.4" x2="79.5" y2="631" stroke="#222" stroke-width="1.0"/>
<line x1="77.2" y1="615.5" x2="82.2" y2="615.5" stroke="#222" stroke-width="1.1"/>
<rect x="62.40" y="631.00" width="34.60" height="149.60" fill="#000"/>
<line x1="127.5" y1="703.4" x2="127.5" y2="714" stroke="#222" stroke-width="1.0"/>
<line x1="125.1" y1="703.5" x2="130.1" y2="703.5" stroke="#222" stroke-width="1.1"/>
<rect x="111.5" y="714.5" width="33" height="66.60000000000002" fill="#bfbfbf" stroke="#3c3c3c" stroke-width="1"/>
<rect x="97.55" y="641.75" width="60.50" height="33.90" fill="#fff" stroke="#222" stroke-width="1.1"/>
<rect x="107.80" y="647.80" width="11.80" height="9.20" fill="#000" stroke="#333" stroke-width="0.8"/>
<rect x="107.80" y="662.40" width="11.80" height="8.40" fill="#bfbfbf" stroke="#333" stroke-width="0.8"/>
<text x="127" y="654.6" font-size="10.5" font-weight="bold" font-style="italic" fill="#111" xml:space="preserve">Pld1<tspan font-size="6.9" dy="-3.3">+/+</tspan></text>
<text x="127" y="669.6" font-size="10.5" font-weight="bold" font-style="italic" fill="#111" xml:space="preserve">Pld1<tspan font-size="6.9" dy="-3.3">-/-</tspan></text>
<line x1="88" y1="609.5" x2="116" y2="609.5" stroke="#333" stroke-width="1.2"/>
<path d="M102.00 604.10L102.00 601.60M102.00 604.10L104.38 603.33M102.00 604.10L103.47 606.12M102.00 604.10L100.53 606.12M102.00 604.10L99.62 603.33" stroke="#111" stroke-width="1.35" stroke-linecap="round" fill="none"/>
<circle cx="102.00" cy="604.10" r="1.15" fill="#111"/>
<text x="103.5" y="799" font-size="11.4" font-weight="bold" text-anchor="middle" fill="#111">+LPS</text>
<text transform="translate(12.2,687.8) rotate(-90)" x="0" y="0" font-size="13" font-weight="normal" text-anchor="middle" fill="#111" textLength="123.5" lengthAdjust="spacingAndGlyphs" stroke="#111" stroke-width="0.45" xml:space="preserve">adjusted density (aU)</text>
<text x="174.4" y="581" font-size="14" font-weight="bold" text-anchor="start" fill="#111">H</text>
<text x="271.45" y="592.1" font-size="15.9" font-weight="bold" text-anchor="middle" fill="#111" textLength="34.3" lengthAdjust="spacingAndGlyphs">Egr1</text>
<line x1="223.5" y1="614.4" x2="223.5" y2="780" stroke="#555" stroke-width="1.3"/>
<text x="213.8" y="783.9" font-size="11.2" font-weight="bold" text-anchor="end" fill="#111">0.00</text>
<text x="213.8" y="763.2" font-size="11.2" font-weight="bold" text-anchor="end" fill="#111">0.20</text>
<text x="213.8" y="742.5" font-size="11.2" font-weight="bold" text-anchor="end" fill="#111">0.40</text>
<text x="213.8" y="721.8" font-size="11.2" font-weight="bold" text-anchor="end" fill="#111">0.60</text>
<text x="213.8" y="701.1" font-size="11.2" font-weight="bold" text-anchor="end" fill="#111">0.80</text>
<text x="213.8" y="680.4" font-size="11.2" font-weight="bold" text-anchor="end" fill="#111">1.00</text>
<text x="213.8" y="659.7" font-size="11.2" font-weight="bold" text-anchor="end" fill="#111">1.20</text>
<text x="213.8" y="639.0" font-size="11.2" font-weight="bold" text-anchor="end" fill="#111">1.40</text>
<text x="213.8" y="618.3" font-size="11.2" font-weight="bold" text-anchor="end" fill="#111">1.60</text>
<line x1="223.6" y1="780.5" x2="335.6" y2="780.5" stroke="#555" stroke-width="1.3"/>
<line x1="253.5" y1="629.6" x2="253.5" y2="642.6" stroke="#222" stroke-width="1.0"/>
<line x1="251.1" y1="629.5" x2="256.1" y2="629.5" stroke="#222" stroke-width="1.1"/>
<rect x="235.40" y="642.60" width="36.40" height="137.40" fill="#000"/>
<line x1="305.5" y1="710.4" x2="305.5" y2="733.4" stroke="#222" stroke-width="1.0"/>
<line x1="302.9" y1="710.5" x2="307.9" y2="710.5" stroke="#222" stroke-width="1.1"/>
<rect x="287.5" y="733.5" width="36" height="47" fill="#bfbfbf" stroke="#3c3c3c" stroke-width="1"/>
<rect x="274.95" y="653.95" width="60.50" height="34.30" fill="#fff" stroke="#222" stroke-width="1.1"/>
<rect x="284.80" y="659.80" width="12.40" height="8.80" fill="#000" stroke="#333" stroke-width="0.8"/>
<rect x="284.80" y="674.40" width="12.40" height="8.60" fill="#bfbfbf" stroke="#333" stroke-width="0.8"/>
<text x="303.6" y="667.6" font-size="10.5" font-weight="bold" font-style="italic" fill="#111" xml:space="preserve">Pld1<tspan font-size="6.9" dy="-3.3">+/+</tspan></text>
<text x="303.6" y="682.4" font-size="10.5" font-weight="bold" font-style="italic" fill="#111" xml:space="preserve">Pld1<tspan font-size="6.9" dy="-3.3">-/-</tspan></text>
<line x1="262" y1="622.5" x2="290.4" y2="622.5" stroke="#333" stroke-width="1.2"/>
<path d="M272.55 616.50L272.55 614.00M272.55 616.50L274.93 615.73M272.55 616.50L274.02 618.52M272.55 616.50L271.08 618.52M272.55 616.50L270.17 615.73" stroke="#111" stroke-width="1.35" stroke-linecap="round" fill="none"/>
<circle cx="272.55" cy="616.50" r="1.15" fill="#111"/>
<path d="M279.85 616.50L279.85 614.00M279.85 616.50L282.23 615.73M279.85 616.50L281.32 618.52M279.85 616.50L278.38 618.52M279.85 616.50L277.47 615.73" stroke="#111" stroke-width="1.35" stroke-linecap="round" fill="none"/>
<circle cx="279.85" cy="616.50" r="1.15" fill="#111"/>
<text x="279.5" y="799" font-size="11.4" font-weight="bold" text-anchor="middle" fill="#111">+LPS</text>
<text transform="translate(185.9,698) rotate(-90)" x="0" y="0" font-size="13" font-weight="normal" text-anchor="middle" fill="#111" textLength="122.7" lengthAdjust="spacingAndGlyphs" stroke="#111" stroke-width="0.45" xml:space="preserve">adjusted density (aU)</text>
<text x="359.0" y="580.6" font-size="14" font-weight="bold" text-anchor="start" fill="#111">I</text>
<line x1="419.5" y1="577.02" x2="419.5" y2="780.6" stroke="#555" stroke-width="1.3"/>
<line x1="415.59999999999997" y1="780.5" x2="419.4" y2="780.5" stroke="#555" stroke-width="1.1"/>
<text x="409.5" y="783.6" font-size="11.2" font-weight="bold" text-anchor="end" fill="#111">0</text>
<line x1="415.59999999999997" y1="746.5" x2="419.4" y2="746.5" stroke="#555" stroke-width="1.1"/>
<text x="409.5" y="749.67" font-size="11.2" font-weight="bold" text-anchor="end" fill="#111">50</text>
<line x1="415.59999999999997" y1="712.5" x2="419.4" y2="712.5" stroke="#555" stroke-width="1.1"/>
<text x="409.5" y="715.74" font-size="11.2" font-weight="bold" text-anchor="end" fill="#111">100</text>
<line x1="415.59999999999997" y1="678.5" x2="419.4" y2="678.5" stroke="#555" stroke-width="1.1"/>
<text x="409.5" y="681.81" font-size="11.2" font-weight="bold" text-anchor="end" fill="#111">150</text>
<line x1="415.59999999999997" y1="644.5" x2="419.4" y2="644.5" stroke="#555" stroke-width="1.1"/>
<text x="409.5" y="647.88" font-size="11.2" font-weight="bold" text-anchor="end" fill="#111">200</text>
<line x1="415.59999999999997" y1="610.5" x2="419.4" y2="610.5" stroke="#555" stroke-width="1.1"/>
<text x="409.5" y="613.95" font-size="11.2" font-weight="bold" text-anchor="end" fill="#111">250</text>
<line x1="415.59999999999997" y1="577.5" x2="419.4" y2="577.5" stroke="#555" stroke-width="1.1"/>
<text x="409.5" y="580.02" font-size="11.2" font-weight="bold" text-anchor="end" fill="#111">300</text>
<line x1="419.4" y1="780.5" x2="580" y2="780.5" stroke="#555" stroke-width="1.3"/>
<line x1="443.5" y1="610.6" x2="443.5" y2="619.4" stroke="#222" stroke-width="1.0"/>
<line x1="440.8" y1="610.5" x2="445.8" y2="610.5" stroke="#222" stroke-width="1.1"/>
<rect x="426.80" y="619.40" width="32.90" height="161.20" fill="#000"/>
<line x1="475.5" y1="694.6" x2="475.5" y2="700.3" stroke="#222" stroke-width="1.0"/>
<line x1="473.1" y1="694.5" x2="478.1" y2="694.5" stroke="#222" stroke-width="1.1"/>
<rect x="460.5" y="700.5" width="30" height="80.60000000000002" fill="#bfbfbf" stroke="#3c3c3c" stroke-width="1"/>
<line x1="523.5" y1="752.7" x2="523.5" y2="754.8" stroke="#222" stroke-width="1.0"/>
<line x1="521.1" y1="752.5" x2="526.1" y2="752.5" stroke="#222" stroke-width="1.1"/>
<rect x="507.50" y="754.80" width="32.20" height="25.80" fill="#000"/>
<line x1="555.5" y1="773.5" x2="555.5" y2="774.3" stroke="#222" stroke-width="1.0"/>
<line x1="553.1" y1="773.5" x2="558.1" y2="773.5" stroke="#222" stroke-width="1.1"/>
<rect x="540.5" y="774.5" width="31" height="6.600000000000023" fill="#bfbfbf" stroke="#3c3c3c" stroke-width="1"/>
<rect x="470.05" y="624.95" width="96.80" height="33.90" fill="#fff" stroke="#222" stroke-width="1.1"/>
<rect x="480.40" y="630.00" width="12.80" height="9.40" fill="#000" stroke="#333" stroke-width="0.8"/>
<rect x="480.40" y="644.20" width="12.80" height="9.60" fill="#bfbfbf" stroke="#333" stroke-width="0.8"/>
<text x="499.4" y="638" font-size="10.5" font-weight="bold" font-style="italic" fill="#111" xml:space="preserve">Pld1<tspan font-size="6.9" dy="-3.3">+/+</tspan><tspan dy="3.3" font-style="normal"> MEFs</tspan></text>
<text x="499.4" y="652.4" font-size="10.5" font-weight="bold" font-style="italic" fill="#111" xml:space="preserve">Pld1<tspan font-size="6.9" dy="-3.3">-/-</tspan><tspan dy="3.3" font-style="normal">  MEFs</tspan></text>
<line x1="446" y1="600.5" x2="474.4" y2="600.5" stroke="#333" stroke-width="1.2"/>
<path d="M452.90 594.90L452.90 592.40M452.90 594.90L455.28 594.13M452.90 594.90L454.37 596.92M452.90 594.90L451.43 596.92M452.90 594.90L450.52 594.13" stroke="#111" stroke-width="1.35" stroke-linecap="round" fill="none"/>
<circle cx="452.90" cy="594.90" r="1.15" fill="#111"/>
<path d="M460.20 594.90L460.20 592.40M460.20 594.90L462.58 594.13M460.20 594.90L461.67 596.92M460.20 594.90L458.73 596.92M460.20 594.90L457.82 594.13" stroke="#111" stroke-width="1.35" stroke-linecap="round" fill="none"/>
<circle cx="460.20" cy="594.90" r="1.15" fill="#111"/>
<path d="M467.50 594.90L467.50 592.40M467.50 594.90L469.88 594.13M467.50 594.90L468.97 596.92M467.50 594.90L466.03 596.92M467.50 594.90L465.12 594.13" stroke="#111" stroke-width="1.35" stroke-linecap="round" fill="none"/>
<circle cx="467.50" cy="594.90" r="1.15" fill="#111"/>
<line x1="529.9" y1="730.5" x2="558.1" y2="730.5" stroke="#333" stroke-width="1.2"/>
<path d="M540.35 725.30L540.35 722.80M540.35 725.30L542.73 724.53M540.35 725.30L541.82 727.32M540.35 725.30L538.88 727.32M540.35 725.30L537.97 724.53" stroke="#111" stroke-width="1.35" stroke-linecap="round" fill="none"/>
<circle cx="540.35" cy="725.30" r="1.15" fill="#111"/>
<path d="M547.65 725.30L547.65 722.80M547.65 725.30L550.03 724.53M547.65 725.30L549.12 727.32M547.65 725.30L546.18 727.32M547.65 725.30L545.27 724.53" stroke="#111" stroke-width="1.35" stroke-linecap="round" fill="none"/>
<circle cx="547.65" cy="725.30" r="1.15" fill="#111"/>
<text x="455.2" y="798.1" font-size="12.3" font-weight="bold" text-anchor="middle" fill="#111">basal</text>
<text x="539.5" y="798.1" font-size="12.3" font-weight="bold" text-anchor="middle" fill="#111">+LPS (5h)</text>
<text transform="translate(364.8,673.8) rotate(-90)" x="0" y="0" font-size="12" font-weight="bold" text-anchor="middle" fill="#111" textLength="159" lengthAdjust="spacingAndGlyphs" xml:space="preserve">Relative expression of  Egr-</text>
<text transform="translate(378.6,674) rotate(-90)" x="0" y="0" font-size="12" font-weight="bold" text-anchor="middle" fill="#111" textLength="88.7" lengthAdjust="spacingAndGlyphs" xml:space="preserve">1 [2^-&#916;Ct*1000]</text>
<text x="597.4" y="581.3" font-size="14" font-weight="bold" text-anchor="start" fill="#111">J</text>
<line x1="661.5" y1="577.1" x2="661.5" y2="780.6" stroke="#555" stroke-width="1.3"/>
<line x1="658.3" y1="780.5" x2="661.5" y2="780.5" stroke="#555" stroke-width="1.1"/>
<text x="652.6" y="783.6" font-size="11.2" font-weight="bold" text-anchor="end" fill="#111">0</text>
<line x1="658.3" y1="739.5" x2="661.5" y2="739.5" stroke="#555" stroke-width="1.1"/>
<text x="652.6" y="742.9" font-size="11.2" font-weight="bold" text-anchor="end" fill="#111">50</text>
<line x1="658.3" y1="699.5" x2="661.5" y2="699.5" stroke="#555" stroke-width="1.1"/>
<text x="652.6" y="702.2" font-size="11.2" font-weight="bold" text-anchor="end" fill="#111">100</text>
<line x1="658.3" y1="658.5" x2="661.5" y2="658.5" stroke="#555" stroke-width="1.1"/>
<text x="652.6" y="661.5" font-size="11.2" font-weight="bold" text-anchor="end" fill="#111">150</text>
<line x1="658.3" y1="617.5" x2="661.5" y2="617.5" stroke="#555" stroke-width="1.1"/>
<text x="652.6" y="620.8" font-size="11.2" font-weight="bold" text-anchor="end" fill="#111">200</text>
<line x1="658.3" y1="577.5" x2="661.5" y2="577.5" stroke="#555" stroke-width="1.1"/>
<text x="652.6" y="580.1" font-size="11.2" font-weight="bold" text-anchor="end" fill="#111">250</text>
<line x1="659" y1="780.5" x2="748" y2="780.5" stroke="#555" stroke-width="1.3"/>
<line x1="683.5" y1="614" x2="683.5" y2="617.2" stroke="#222" stroke-width="1.0"/>
<line x1="680.8" y1="614.5" x2="685.8" y2="614.5" stroke="#222" stroke-width="1.1"/>
<rect x="667.40" y="617.20" width="32.40" height="163.40" fill="#000"/>
<line x1="726.5" y1="690.2" x2="726.5" y2="691.3" stroke="#222" stroke-width="1.0"/>
<line x1="724.3" y1="690.5" x2="729.3" y2="690.5" stroke="#222" stroke-width="1.1"/>
<rect x="711.5" y="691.5" width="30" height="89.60000000000002" fill="#bfbfbf" stroke="#3c3c3c" stroke-width="1"/>
<line x1="683.9" y1="604.5" x2="712.7" y2="604.5" stroke="#333" stroke-width="1.2"/>
<path d="M691.00 598.90L691.00 596.40M691.00 598.90L693.38 598.13M691.00 598.90L692.47 600.92M691.00 598.90L689.53 600.92M691.00 598.90L688.62 598.13" stroke="#111" stroke-width="1.35" stroke-linecap="round" fill="none"/>
<circle cx="691.00" cy="598.90" r="1.15" fill="#111"/>
<path d="M698.30 598.90L698.30 596.40M698.30 598.90L700.68 598.13M698.30 598.90L699.77 600.92M698.30 598.90L696.83 600.92M698.30 598.90L695.92 598.13" stroke="#111" stroke-width="1.35" stroke-linecap="round" fill="none"/>
<circle cx="698.30" cy="598.90" r="1.15" fill="#111"/>
<path d="M705.60 598.90L705.60 596.40M705.60 598.90L707.98 598.13M705.60 598.90L707.07 600.92M705.60 598.90L704.13 600.92M705.60 598.90L703.22 598.13" stroke="#111" stroke-width="1.35" stroke-linecap="round" fill="none"/>
<circle cx="705.60" cy="598.90" r="1.15" fill="#111"/>
<text transform="translate(606.6,684.6) rotate(-90)" x="0" y="0" font-size="12" font-weight="bold" text-anchor="middle" fill="#111" textLength="93.8" lengthAdjust="spacingAndGlyphs" xml:space="preserve">Egr-1expression</text>
<text transform="translate(621.6,737.6) rotate(-90)" x="0" y="0" font-size="12.6" text-anchor="start" fill="#111" stroke="#111" stroke-width="0.45" xml:space="preserve">[delta<tspan font-size="8.2" font-weight="bold" stroke="none" dy="2.3">basal &#8211; stimulated)</tspan><tspan dy="-2.3">]</tspan></text>
<text x="170.0" y="847" font-size="14" font-weight="bold" text-anchor="start" fill="#111">K</text>
<line x1="230.5" y1="858.0" x2="230.5" y2="1038.3" stroke="#555" stroke-width="1.3"/>
<line x1="227.10000000000002" y1="1038.5" x2="230.3" y2="1038.5" stroke="#555" stroke-width="1.1"/>
<text x="220.5" y="1042.2" font-size="12.2" font-weight="bold" text-anchor="end" fill="#111">0</text>
<line x1="227.10000000000002" y1="1008.5" x2="230.3" y2="1008.5" stroke="#555" stroke-width="1.1"/>
<text x="220.5" y="1012.15" font-size="12.2" font-weight="bold" text-anchor="end" fill="#111">5</text>
<line x1="227.10000000000002" y1="978.5" x2="230.3" y2="978.5" stroke="#555" stroke-width="1.1"/>
<text x="220.5" y="982.1" font-size="12.2" font-weight="bold" text-anchor="end" fill="#111">10</text>
<line x1="227.10000000000002" y1="948.5" x2="230.3" y2="948.5" stroke="#555" stroke-width="1.1"/>
<text x="220.5" y="952.05" font-size="12.2" font-weight="bold" text-anchor="end" fill="#111">15</text>
<line x1="227.10000000000002" y1="918.5" x2="230.3" y2="918.5" stroke="#555" stroke-width="1.1"/>
<text x="220.5" y="922.0" font-size="12.2" font-weight="bold" text-anchor="end" fill="#111">20</text>
<line x1="227.10000000000002" y1="888.5" x2="230.3" y2="888.5" stroke="#555" stroke-width="1.1"/>
<text x="220.5" y="891.95" font-size="12.2" font-weight="bold" text-anchor="end" fill="#111">25</text>
<line x1="227.10000000000002" y1="858.5" x2="230.3" y2="858.5" stroke="#555" stroke-width="1.1"/>
<text x="220.5" y="861.9" font-size="12.2" font-weight="bold" text-anchor="end" fill="#111">30</text>
<line x1="230" y1="1038.5" x2="518.7" y2="1038.5" stroke="#555" stroke-width="1.3"/>
<line x1="259.5" y1="1028" x2="259.5" y2="1030" stroke="#222" stroke-width="1.0"/>
<line x1="257.3" y1="1028.5" x2="262.3" y2="1028.5" stroke="#222" stroke-width="1.1"/>
<line x1="297.5" y1="1017.2" x2="297.5" y2="1025.2" stroke="#222" stroke-width="1.0"/>
<line x1="295.3" y1="1017.5" x2="300.3" y2="1017.5" stroke="#222" stroke-width="1.1"/>
<rect x="240.80" y="1030.00" width="38.00" height="8.30" fill="#000"/>
<rect x="279.5" y="1025.5" width="37" height="13.299999999999955" fill="#bfbfbf" stroke="#3c3c3c" stroke-width="1"/>
<line x1="355.5" y1="990" x2="355.5" y2="994.8" stroke="#222" stroke-width="1.0"/>
<line x1="353.3" y1="990.5" x2="358.3" y2="990.5" stroke="#222" stroke-width="1.1"/>
<line x1="393.5" y1="1022.8" x2="393.5" y2="1026.8" stroke="#222" stroke-width="1.0"/>
<line x1="391.45000000000005" y1="1022.5" x2="396.45000000000005" y2="1022.5" stroke="#222" stroke-width="1.1"/>
<rect x="336.80" y="994.80" width="38.00" height="43.50" fill="#000"/>
<rect x="375.5" y="1027.5" width="37" height="11.299999999999955" fill="#bfbfbf" stroke="#3c3c3c" stroke-width="1"/>
<line x1="452.5" y1="893.4" x2="452.5" y2="926" stroke="#222" stroke-width="1.0"/>
<line x1="449.65" y1="893.5" x2="454.65" y2="893.5" stroke="#222" stroke-width="1.1"/>
<line x1="490.5" y1="1004.5" x2="490.5" y2="1010.5" stroke="#222" stroke-width="1.0"/>
<line x1="488.15" y1="1004.5" x2="493.15" y2="1004.5" stroke="#222" stroke-width="1.1"/>
<rect x="432.60" y="926.00" width="39.10" height="112.30" fill="#000"/>
<rect x="472.5" y="1010.5" width="37" height="28.299999999999955" fill="#bfbfbf" stroke="#3c3c3c" stroke-width="1"/>
<rect x="243.15" y="858.35" width="60.10" height="33.70" fill="#fff" stroke="#222" stroke-width="1.1"/>
<rect x="253.00" y="864.00" width="12.00" height="9.00" fill="#000" stroke="#333" stroke-width="0.8"/>
<rect x="253.00" y="878.00" width="12.00" height="9.00" fill="#bfbfbf" stroke="#333" stroke-width="0.8"/>
<text x="272" y="872" font-size="10.5" font-weight="bold" font-style="italic" fill="#111" xml:space="preserve">Pld1<tspan font-size="6.9" dy="-3.3">+/+</tspan></text>
<text x="272" y="886" font-size="10.5" font-weight="bold" font-style="italic" fill="#111" xml:space="preserve">Pld1<tspan font-size="6.9" dy="-3.3">-/-</tspan></text>
<line x1="359.2" y1="981.5" x2="387.8" y2="981.5" stroke="#333" stroke-width="1.2"/>
<path d="M370.15 976.20L370.15 974.10M370.15 976.20L372.15 975.55M370.15 976.20L371.38 977.90M370.15 976.20L368.92 977.90M370.15 976.20L368.15 975.55" stroke="#111" stroke-width="1.35" stroke-linecap="round" fill="none"/>
<circle cx="370.15" cy="976.20" r="1.15" fill="#111"/>
<path d="M376.85 976.20L376.85 974.10M376.85 976.20L378.85 975.55M376.85 976.20L378.08 977.90M376.85 976.20L375.62 977.90M376.85 976.20L374.85 975.55" stroke="#111" stroke-width="1.35" stroke-linecap="round" fill="none"/>
<circle cx="376.85" cy="976.20" r="1.15" fill="#111"/>
<line x1="455" y1="886.5" x2="483.6" y2="886.5" stroke="#333" stroke-width="1.2"/>
<path d="M469.30 881.20L469.30 879.10M469.30 881.20L471.30 880.55M469.30 881.20L470.53 882.90M469.30 881.20L468.07 882.90M469.30 881.20L467.30 880.55" stroke="#111" stroke-width="1.35" stroke-linecap="round" fill="none"/>
<circle cx="469.30" cy="881.20" r="1.15" fill="#111"/>
<text x="274.8" y="1055" font-size="12" font-weight="bold" text-anchor="middle" fill="#111">basal</text>
<text x="375" y="1055" font-size="12" font-weight="bold" text-anchor="middle" fill="#111">1h</text>
<text x="471.2" y="1055" font-size="12" font-weight="bold" text-anchor="middle" fill="#111">5h</text>
<text transform="translate(200.9,948) rotate(-90)" x="0" y="0" font-size="12" font-weight="bold" text-anchor="middle" fill="#111" textLength="153.4" lengthAdjust="spacingAndGlyphs" xml:space="preserve">Egr1 mRNA in liver (x-fold)</text>
</svg>
</body></html>
